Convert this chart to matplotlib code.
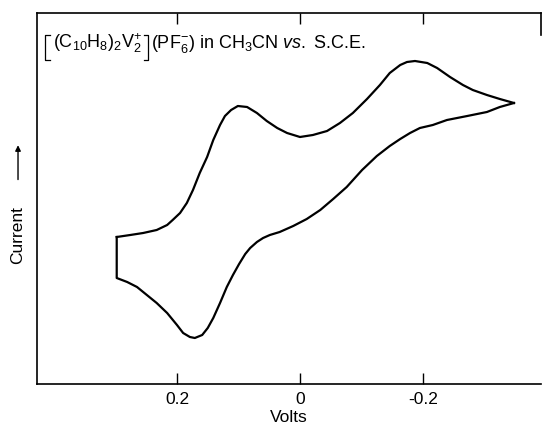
import matplotlib.pyplot as plt
from matplotlib.lines import Line2D
from matplotlib.offsetbox import (AnchoredOffsetbox, DrawingArea, HPacker,
                                  TextArea)

plt.rcParams['font.family'] = ['Liberation Sans', 'DejaVu Sans']
plt.rcParams['mathtext.fontset'] = 'custom'
plt.rcParams['mathtext.rm'] = 'Liberation Sans'
plt.rcParams['mathtext.it'] = 'Liberation Sans:italic'
plt.rcParams['mathtext.default'] = 'regular'

# forward sweep (upper branch): volts vs S.C.E., current (arb. units)
fwd_v = [0.298, 0.276, 0.255, 0.233, 0.216, 0.207, 0.195, 0.184, 0.174,
         0.163, 0.151, 0.141, 0.130, 0.122, 0.112, 0.101, 0.086, 0.070,
         0.054, 0.037, 0.021, 0.000, -0.021, -0.044, -0.065, -0.086,
         -0.109, -0.130, -0.146, -0.163, -0.174, -0.187, -0.207, -0.223,
         -0.244, -0.265, -0.281, -0.304, -0.325, -0.348]
fwd_i = [14.7, 14.9, 15.1, 15.4, 15.9, 16.4, 17.1, 18.1, 19.4,
         21.1, 22.7, 24.4, 25.9, 26.8, 27.4, 27.8, 27.7, 27.1,
         26.3, 25.6, 25.1, 24.7, 24.9, 25.3, 26.1, 27.1,
         28.5, 29.9, 31.1, 31.9, 32.2, 32.3, 32.1, 31.6,
         30.7, 29.9, 29.4, 28.9, 28.5, 28.1]

# reverse sweep (lower branch)
rev_v = [-0.348, -0.325, -0.304, -0.272, -0.239, -0.216, -0.195, -0.179,
         -0.163, -0.146, -0.125, -0.101, -0.076, -0.054, -0.033, -0.011,
         0.011, 0.033, 0.049, 0.060, 0.070, 0.081, 0.089, 0.099, 0.109,
         0.119, 0.130, 0.141, 0.150, 0.159, 0.171, 0.179, 0.190, 0.200,
         0.216, 0.233, 0.249, 0.265, 0.281, 0.298, 0.298]
rev_i = [28.1, 27.7, 27.2, 26.8, 26.4, 25.9, 25.6, 25.1,
         24.5, 23.8, 22.8, 21.4, 19.7, 18.5, 17.4, 16.5,
         15.8, 15.2, 14.9, 14.6, 14.2, 13.6, 13.0, 12.0, 10.9,
         9.7, 8.1, 6.6, 5.6, 4.9, 4.6, 4.7, 5.1, 5.9,
         7.1, 8.1, 8.9, 9.7, 10.2, 10.6, 14.7]

ticks = [0.2, 0.0, -0.2]
tick_labels = ['0.2', '0', '-0.2']

fig = plt.figure(figsize=(5.46, 4.29), dpi=100)
ax = fig.add_axes([0.0678, 0.1049, 0.923, 0.8648])

ax.plot(fwd_v, fwd_i, color='black', linewidth=1.6, solid_joinstyle='round')
ax.plot(rev_v, rev_i, color='black', linewidth=1.6, solid_joinstyle='round')

ax.set_xlim(0.4276, -0.3919)
ax.set_ylim(0, 37.1)
ax.set_xticks(ticks)
ax.set_xticklabels(tick_labels)
ax.set_yticks([])
ax.tick_params(axis='x', direction='in', top=True, length=8, width=1,
               pad=6, labelsize=12.5)
for s in ax.spines.values():
    s.set_linewidth(1.2)
ax.spines['right'].set_visible(False)
ax.plot([1, 1], [1, 0.94], transform=ax.transAxes, color='black',
        linewidth=1.2, clip_on=False)

ax.set_xlabel('Volts', fontsize=12.5, labelpad=2)


def bracket(side):
    da = DrawingArea(5, 18, 0, 8.6)
    if side == 'left':
        xs = [3.8, 0.8, 0.8, 3.8]
    else:
        xs = [0.8, 3.8, 3.8, 0.8]
    da.add_artist(Line2D(xs, [9.2, 9.2, -8.4, -8.4], color='black', lw=0.9))
    return da


tp = dict(fontsize=13)
title = HPacker(children=[
    bracket('left'),
    TextArea(r'$(C_{10}H_8)_2V_2^{+}$', textprops=tp),
    bracket('right'),
    TextArea(r'$(PF_6^{-})$ in CH$_3$CN $\mathit{vs.}$ S.C.E.',
             textprops=tp),
], align='baseline', pad=0, sep=1)
ab = AnchoredOffsetbox(loc='upper left', child=title, pad=0, borderpad=0,
                       frameon=False, bbox_to_anchor=(0.081, 0.927),
                       bbox_transform=fig.transFigure)
ax.add_artist(ab)

fig.text(0.033, 0.452, 'Current', rotation=90, fontsize=12.5,
         ha='center', va='center')
ax.annotate('', xy=(0.033, 0.668), xytext=(0.033, 0.575),
            xycoords='figure fraction', textcoords='figure fraction',
            arrowprops=dict(arrowstyle='-|>', color='black', lw=1,
                            mutation_scale=8))

fig.savefig('out.png', dpi=100)
